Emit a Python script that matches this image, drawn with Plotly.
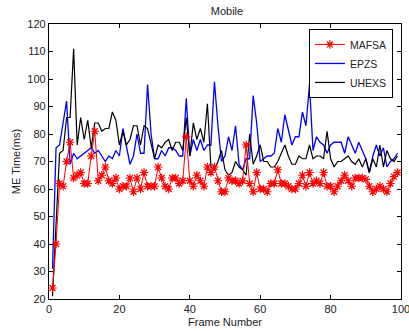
import plotly.graph_objects as go

# Motion-estimation time per frame for the "Mobile" sequence
frames = list(range(1, 100))

mafsa = [24, 40, 62, 61, 70, 77, 64, 65, 66, 62, 62, 72, 81, 63, 65, 68, 63, 62, 64, 60,
         61, 61, 64, 59, 64, 60, 66, 61, 61, 61, 68, 64, 61, 60, 64, 64, 62, 63, 79, 63,
         61, 65, 63, 61, 68, 66, 68, 63, 59, 59, 64, 63, 63, 62, 63, 76, 62, 59, 66, 60,
         60, 59, 62, 62, 67, 62, 62, 61, 60, 60, 62, 65, 61, 66, 62, 63, 62, 66, 61, 61,
         59, 61, 63, 65, 63, 61, 64, 64, 64, 63.5, 61, 59, 60, 61, 60, 59, 62, 64.5, 66]

epzs = [31, 75, 76, 84, 92, 69, 73, 71, 72, 73, 74, 75, 73, 74, 72, 70, 72, 71, 74, 72,
        82, 76, 69, 72, 80, 73, 73, 98, 80, 71, 71, 74, 72, 75, 75, 74, 72, 72, 93, 72,
        78, 74, 78, 74, 76, 76, 99, 83, 70, 72, 79, 74, 83, 69, 67, 71, 71, 94, 84, 70,
        71, 72, 72, 73, 82, 77, 87, 81, 76, 79, 79, 88, 83, 98, 74, 79, 77, 76, 73, 76,
        77, 77, 77, 73, 79, 76, 73, 77, 74, 71, 66, 72, 76, 72, 75, 68, 70, 71, 73]

uhexs = [21, 47, 73, 74, 86, 86, 111, 76, 86, 78, 85, 75, 84, 84, 81, 82, 82, 88, 85, 76,
         81, 76, 78, 83, 83, 76, 83, 82, 76, 71, 76, 75, 77, 78, 74, 77, 77, 74, 86, 72,
         84, 78, 82, 77, 91, 68, 67, 70, 74, 67, 65, 66, 70, 68, 67, 65, 80, 69, 72, 76,
         70, 70, 68, 68, 70, 73, 76, 72, 69, 69, 72, 71, 71, 76, 71, 72, 72, 71, 81, 71,
         68, 70, 70, 71, 72, 70, 69, 71, 68, 71, 66, 71, 68, 76, 68, 74, 71, 70, 72]

x_ticks = [0, 20, 40, 60, 80, 100]
y_ticks = [20, 30, 40, 50, 60, 70, 80, 90, 100, 110, 120]

FONT = "Liberation Sans, Arial, sans-serif"
TEXT = "#222222"

fig = go.Figure()

fig.add_trace(go.Scatter(
    x=frames, y=epzs, name="EPZS", mode="lines",
    line=dict(color="#0000ff", width=1.3), legendrank=2,
))
fig.add_trace(go.Scatter(
    x=frames, y=uhexs, name="UHEXS", mode="lines",
    line=dict(color="#000000", width=1.2), legendrank=3,
))
fig.add_trace(go.Scatter(
    x=frames, y=mafsa, name="MAFSA", mode="lines+markers",
    line=dict(color="#ff0000", width=1),
    marker=dict(symbol="asterisk-open", size=7, color="#ff0000",
                line=dict(color="#ff0000", width=1.2)),
    legendrank=1,
))

axis_common = dict(
    showline=True, linecolor="black", linewidth=1.2, mirror="ticks",
    ticks="inside", ticklen=4, tickcolor="black", tickwidth=1,
    showgrid=False, zeroline=False, ticklabeloverflow="allow", automargin=False,
    tickfont=dict(family=FONT, size=11, color=TEXT),
)

fig.update_xaxes(
    range=[0, 100], tickvals=x_ticks,
    title=dict(text="Frame Number", font=dict(family=FONT, size=11, color=TEXT), standoff=4),
    **axis_common,
)
fig.update_yaxes(
    range=[20, 120], tickvals=y_ticks,
    title=dict(text="ME Time(ms)", font=dict(family=FONT, size=11, color=TEXT), standoff=4),
    **axis_common,
)

fig.update_layout(
    width=409, height=331,
    margin=dict(l=49, r=8, t=24, b=32),
    paper_bgcolor="white", plot_bgcolor="white",
    title=dict(text="Mobile", x=0.555, xanchor="center", y=0.965, yanchor="middle",
               font=dict(family=FONT, size=11, color=TEXT)),
    legend=dict(
        x=0.977, y=0.982, xanchor="right", yanchor="top",
        bgcolor="white", bordercolor="black", borderwidth=1,
        font=dict(family=FONT, size=10.5, color=TEXT),
        tracegroupgap=0, itemwidth=30,
    ),
    showlegend=True,
)

fig.write_html("out.html")
